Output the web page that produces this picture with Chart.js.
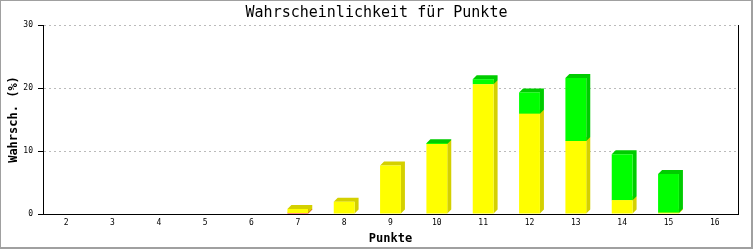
<!DOCTYPE html>
<html>
<head>
<meta charset="utf-8">
<script src="https://cdn.jsdelivr.net/npm/chart.js@4/dist/chart.umd.min.js"></script>
<style>
  html, body { margin: 0; padding: 0; background: #fff; }
  #wrap { position: relative; width: 753px; height: 250px; }
  #frame {
    position: absolute; left: 0; top: 0; width: 753px; height: 249px;
    box-sizing: border-box; border-style: solid; border-color: #a0a0a0;
    border-width: 1px 2px 2px 1px; pointer-events: none;
  }
</style>
</head>
<body>
<div id="wrap">
  <canvas id="chart" width="753" height="250"></canvas>
  <div id="frame"></div>
</div>
<script>
// values (percent)
const points = ['2','3','4','5','6','7','8','9','10','11','12','13','14','15','16'];
const redPart    = [0, 0, 0, 0, 0, 0.15, 0,    0,   0,    0,    0,    0,    0,   0,    0];
const yellowPart = [0, 0, 0, 0, 0, 0.65, 1.95, 7.7, 11.1, 20.6, 15.9, 11.6, 2.2, 0.2,  0];
const greenPart  = [0, 0, 0, 0, 0, 0,    0,    0,   0.15, 0.8,  3.4,  10.0, 7.3, 6.15, 0];
const yTicks = [0, 10, 20, 30];

const MONO = "'DejaVu Sans Mono', 'Liberation Mono', monospace";
const DEPTH = 4;

// draws the darker side and top faces next to each bar front, bottom segment first
const depth3d = {
  id: 'depth3d',
  beforeDatasetsDraw(chart) {
    const ctx = chart.ctx;
    ctx.save();
    chart.data.datasets.forEach((ds, di) => {
      const meta = chart.getDatasetMeta(di);
      meta.data.forEach((bar, i) => {
        if (!ds.data[i]) return;
        const { x, y, base, width } = bar.getProps(['x', 'y', 'base', 'width'], true);
        const l = x - width / 2, r = x + width / 2;
        ctx.fillStyle = ds.sideColor;
        ctx.beginPath();
        ctx.moveTo(r, base);
        ctx.lineTo(r + DEPTH, base - DEPTH);
        ctx.lineTo(r + DEPTH, y - DEPTH);
        ctx.lineTo(l + DEPTH, y - DEPTH);
        ctx.lineTo(l, y);
        ctx.lineTo(r, y);
        ctx.closePath();
        ctx.fill();
      });
    });
    ctx.restore();
  }
};

new Chart(document.getElementById('chart'), {
  type: 'bar',
  data: {
    labels: points,
    datasets: [
      { data: redPart,    backgroundColor: '#ff0000', sideColor: '#c80000' },
      { data: yellowPart, backgroundColor: '#ffff00', sideColor: '#d4d000' },
      { data: greenPart,  backgroundColor: '#00ff00', sideColor: '#00cc00' },
    ]
  },
  options: {
    responsive: false,
    animation: false,
    events: [],
    layout: { padding: 0 },
    datasets: { bar: { categoryPercentage: 1, barPercentage: 0.45, borderWidth: 0 } },
    plugins: {
      legend: { display: false },
      tooltip: { enabled: false },
      title: {
        display: true,
        text: 'Wahrscheinlichkeit für Punkte',
        color: '#000',
        font: { family: MONO, size: 15, weight: 'normal', lineHeight: 1.2 },
        padding: { top: 4.5, bottom: 2.5 }
      }
    },
    scales: {
      x: {
        stacked: true,
        grid: { display: false, drawTicks: false },
        border: { display: true, color: '#000', width: 1 },
        ticks: { color: '#000', font: { family: MONO, size: 8 }, padding: 4, maxRotation: 0, autoSkip: false },
        title: {
          display: true, text: 'Punkte', color: '#000',
          font: { family: MONO, size: 12, weight: 'bold', lineHeight: 1 },
          padding: { top: 0, bottom: 5 }
        },
        afterFit: s => { s.height = 36; }
      },
      y: {
        stacked: true,
        min: 0, max: 30,
        afterBuildTicks: s => { s.ticks = yTicks.map(v => ({ value: v })); },
        grid: {
          color: c => (c.tick && c.tick.value === 0) ? '#000' : '#bbbbbb',
          tickColor: '#000', tickLength: 5, tickBorderDash: []
        },
        border: { display: true, color: '#000', width: 1, dash: [2, 3] },
        ticks: { color: '#000', font: { family: MONO, size: 8 }, padding: 5 },
        title: {
          display: true, text: 'Wahrsch. (%)', color: '#000',
          font: { family: MONO, size: 12, weight: 'bold', lineHeight: 1 },
          padding: { top: 8, bottom: 0 }
        },
        afterFit: s => { s.width = 43; }
      },
      yRight: {
        type: 'linear',
        position: 'right',
        min: 0, max: 30,
        grid: { drawOnChartArea: false, drawTicks: false },
        border: { display: true, color: '#000', width: 1 },
        ticks: { display: false },
        afterFit: s => { s.width = 15; }
      }
    }
  },
  plugins: [depth3d]
});
</script>
</body>
</html>
